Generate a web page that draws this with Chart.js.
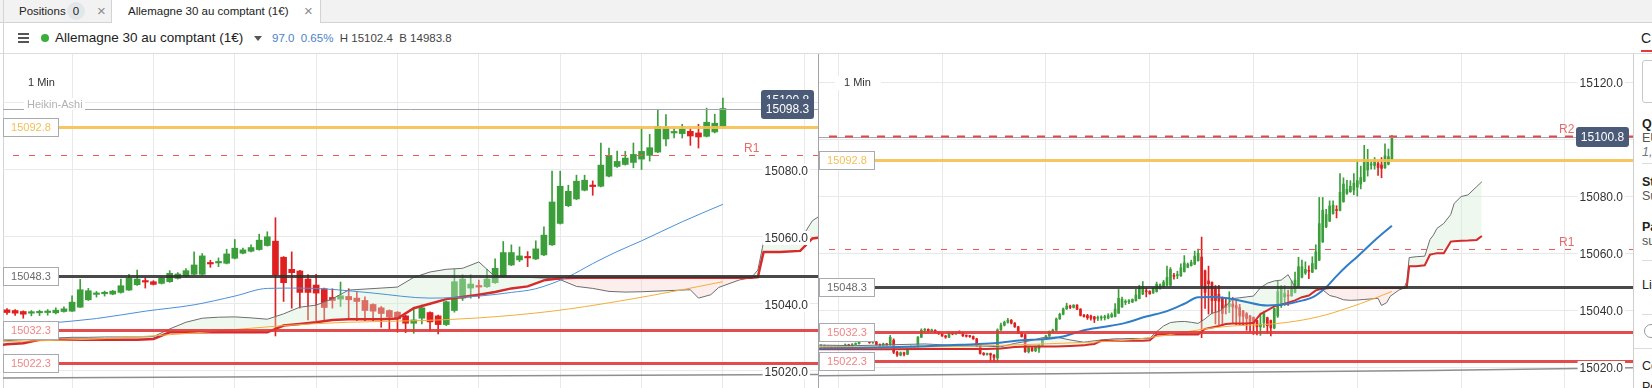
<!DOCTYPE html>
<html lang="fr">
<head>
<meta charset="utf-8">
<title>Allemagne 30 au comptant (1€)</title>
<script src="https://cdn.jsdelivr.net/npm/chart.js@4.4.1/dist/chart.umd.min.js"></script>
<style>
  html, body { margin: 0; padding: 0; }
  body { width: 1652px; height: 388px; overflow: hidden; position: relative; background: #fff;
         font-family: "Liberation Sans", Arial, sans-serif; color: #222; }
  .abs { position: absolute; }
  #tabbar { left: 0; top: 0; width: 1652px; height: 22px; background: #f2f2f2; border-bottom: 1px solid #d3d3d3; }
  .tab { top: 0; height: 23px; font-size: 11.5px; line-height: 22px; box-sizing: border-box; white-space: nowrap; }
  .close { color: #8c8c8c; font-size: 15px; }
  .badge { display: inline-block; width: 18px; height: 18px; border-radius: 9px; background: #e2e7e9; text-align: center; line-height: 18px; }
  #toolbar { left: 0; top: 23px; width: 1652px; height: 30px; border-bottom: 1px solid #dcdcdc; }
  .burger { left: 18px; width: 11px; height: 1.5px; background: #555; }
  .caret { left: 254px; top: 36px; width: 0; height: 0; border-left: 4px solid transparent; border-right: 4px solid transparent; border-top: 5px solid #555; }
  .side { left: 1642px; font-size: 12.5px; white-space: nowrap; }
  canvas { position: absolute; top: 54px; }
</style>
</head>
<body>

<div id="tabbar" class="abs"></div>
<div class="abs tab" style="left:3px;width:109px;border-right:1px solid #d3d3d3;background:#f2f2f2;height:22px">
  <span class="abs" style="left:16px">Positions</span>
  <span class="abs badge" style="left:64px;top:2px">0</span>
  <span class="abs close" style="left:94px">×</span>
</div>
<div class="abs tab" style="left:112px;width:209px;background:#fff;border-right:1px solid #d3d3d3">
  <span class="abs" style="left:16px">Allemagne 30 au comptant (1€)</span>
  <span class="abs close" style="left:192px">×</span>
</div>

<div id="toolbar" class="abs"></div>
<div class="abs burger" style="top:33px"></div>
<div class="abs burger" style="top:37px"></div>
<div class="abs burger" style="top:41px"></div>
<div class="abs" style="left:41px;top:34px;width:8px;height:8px;border-radius:4px;background:#3aae3a"></div>
<div class="abs" style="left:55px;top:30px;font-size:13.5px;white-space:nowrap">Allemagne 30 au comptant (1€)</div>
<div class="abs caret"></div>
<div class="abs" style="left:272px;top:32px;font-size:11.5px;white-space:nowrap;color:#444">
  <span style="color:#4b7fc8">97.0</span>&nbsp;&nbsp;<span style="color:#4b7fc8">0.65%</span>&nbsp; H 15102.4&nbsp; B 14983.8
</div>
<div class="abs" style="left:1641px;top:30px;font-size:14px">C</div>
<div class="abs" style="left:1641px;top:50px;width:11px;height:2px;background:#e23b3b"></div>

<div class="abs" style="left:3px;top:0;width:1px;height:388px;background:#d4d4d4"></div>
<canvas id="left" width="815" height="334" style="left:3px"></canvas>
<div class="abs" style="left:818px;top:54px;width:1px;height:334px;background:#a0a2a8"></div>
<canvas id="right" width="814" height="334" style="left:819px"></canvas>

<div class="abs" style="left:1633px;top:54px;width:1px;height:334px;background:#cfcfcf"></div>
<div class="abs" style="left:1642px;top:60px;width:14px;height:41px;border:1px solid #c8c8c8;border-radius:3px"></div>
<div class="abs side" style="top:117px;font-weight:bold">Qu</div>
<div class="abs side" style="top:131px;color:#555">EU</div>
<div class="abs side" style="top:145px;color:#777;font-style:italic">1,</div>
<div class="abs" style="left:1642px;top:163px;width:10px;height:1px;background:#dcdcdc"></div>
<div class="abs side" style="top:175px;font-weight:bold">St</div>
<div class="abs side" style="top:189px;color:#555">Su</div>
<div class="abs side" style="top:220px;font-weight:bold">Pa</div>
<div class="abs side" style="top:234px;color:#555">su</div>
<div class="abs" style="left:1642px;top:260px;width:10px;height:1px;background:#dcdcdc"></div>
<div class="abs side" style="top:278px">Lin</div>
<div class="abs" style="left:1642px;top:314px;width:10px;height:1px;background:#dcdcdc"></div>
<div class="abs" style="left:1644px;top:324px;width:12px;height:12px;border:1px solid #9a9a9a;border-radius:7px"></div>
<div class="abs" style="left:1634px;top:348px;width:18px;height:1px;background:#dcdcdc"></div>
<div class="abs side" style="top:359px">Co</div>
<div class="abs side" style="top:380px">Po</div>

<script>
// ---- 1 min candles, oldest first (the left panel shows the last 89) ----
const opens = [
  15027.0, 15027.4, 15027.0, 15027.2, 15026.8, 15027.3, 15026.6, 15027.2, 15027.9, 15027.5,
  15028.0, 15028.3, 15029.4, 15030.0, 15029.5, 15028.7, 15028.9, 15028.0, 15027.5, 15028.2,
  15027.8, 15029.5, 15025.3, 15024.3, 15025.1, 15024.6, 15026.5, 15027.2, 15026.8, 15030.6,
  15033.0, 15033.3, 15032.8, 15033.0, 15032.3, 15031.8, 15031.0, 15030.6, 15032.0, 15031.7,
  15032.3, 15032.0, 15031.0, 15030.9, 15030.8, 15030.0, 15027.5, 15024.9, 15024.5, 15024.8,
  15024.3, 15023.3, 15033.1, 15034.8, 15035.8, 15036.5, 15035.5, 15034.2, 15032.0, 15031.4,
  15025.5, 15026.8, 15025.8, 15026.5, 15027.8, 15030.0, 15031.0, 15032.5, 15033.0, 15037.0,
  15038.6, 15040.5, 15041.5, 15041.0, 15041.8, 15040.4, 15038.2,
  15038.2, 15038.0, 15037.7, 15037.2, 15037.3, 15037.4, 15037.3, 15037.7, 15037.8, 15039.0,
  15041.2, 15042.8, 15043.0, 15042.9, 15043.4, 15044.1, 15045.7, 15046.7, 15046.6, 15046.1,
  15046.6, 15047.6, 15048.3, 15048.8, 15048.8, 15052.1, 15052.2, 15052.1, 15053.6, 15055.1,
  15055.7, 15056.2, 15057.4, 15058.7, 15053.9, 15050.3, 15049.8, 15047.4, 15045.6, 15044.5,
  15041.9, 15041.4, 15042.2, 15041.7, 15041.0, 15039.8, 15038.8, 15038.0, 15037.5, 15036.4,
  15034.2, 15035.7, 15037.4, 15036.4, 15033.8, 15038.0, 15041.7, 15044.7, 15045.2, 15045.1,
  15046.3, 15048.1, 15051.6, 15053.1, 15053.9, 15053.4, 15054.6, 15057.6, 15064.0, 15069.3,
  15071.3, 15073.9, 15075.3, 15075.1, 15078.1, 15081.0, 15081.6, 15082.2, 15083.2, 15084.3,
  15085.3, 15089.2, 15091.0, 15090.8, 15091.5, 15091.0, 15090.0, 15091.3, 15093.0
];
const highs = [
  15028.0, 15027.8, 15027.6, 15027.5, 15027.6, 15027.5, 15027.4, 15028.2, 15028.1, 15028.3,
  15028.6, 15029.8, 15030.8, 15030.3, 15029.7, 15029.3, 15029.1, 15028.2, 15028.5, 15028.4,
  15031.2, 15030.0, 15025.6, 15025.4, 15025.3, 15026.8, 15027.5, 15027.4, 15030.8, 15033.5,
  15033.6, 15033.5, 15033.4, 15033.2, 15032.5, 15032.0, 15031.2, 15032.3, 15032.4, 15032.6,
  15032.8, 15032.2, 15031.4, 15031.2, 15031.0, 15030.2, 15027.7, 15025.2, 15025.0, 15025.0,
  15024.5, 15033.5, 15035.5, 15036.2, 15037.2, 15036.8, 15035.7, 15034.4, 15032.2, 15031.6,
  15027.0, 15027.0, 15027.5, 15028.0, 15030.2, 15031.2, 15032.8, 15033.4, 15037.3, 15039.0,
  15040.8, 15042.5, 15041.8, 15042.0, 15042.0, 15040.6, 15038.6,
  15038.6, 15038.3, 15037.9, 15038.0, 15038.1, 15038.3, 15038.8, 15039.1, 15042.4, 15047.3,
  15044.6, 15043.7, 15043.8, 15044.0, 15047.4, 15048.8, 15050.1, 15047.8, 15046.9, 15048.0,
  15049.9, 15049.3, 15050.5, 15055.5, 15055.0, 15053.0, 15053.7, 15056.3, 15059.2, 15056.6,
  15057.6, 15060.8, 15061.5, 15065.7, 15054.1, 15055.5, 15050.0, 15048.7, 15048.8, 15044.7,
  15044.5, 15046.5, 15044.5, 15043.5, 15042.1, 15040.0, 15039.2, 15038.2, 15037.7, 15036.6,
  15039.0, 15039.7, 15037.6, 15036.6, 15040.8, 15050.3, 15048.7, 15048.7, 15047.1, 15050.3,
  15053.4, 15058.6, 15057.6, 15057.0, 15055.6, 15058.8, 15063.0, 15079.6, 15079.6, 15075.4,
  15078.4, 15078.4, 15076.7, 15088.0, 15086.5, 15085.6, 15085.5, 15088.0, 15092.3, 15090.6,
  15097.9, 15096.5, 15092.3, 15093.6, 15092.3, 15093.6, 15098.4, 15096.6, 15101.4
];
const lows = [
  15026.5, 15026.6, 15026.5, 15026.4, 15026.5, 15026.2, 15026.3, 15027.0, 15027.2, 15027.3,
  15027.8, 15028.1, 15029.2, 15029.2, 15028.4, 15028.4, 15027.7, 15027.2, 15027.3, 15027.5,
  15027.6, 15024.8, 15023.8, 15024.0, 15024.0, 15024.4, 15026.3, 15026.5, 15026.6, 15030.4,
  15032.6, 15032.5, 15032.5, 15032.0, 15031.5, 15030.8, 15030.2, 15030.4, 15031.4, 15031.5,
  15031.8, 15030.8, 15030.6, 15030.5, 15029.8, 15027.2, 15024.6, 15024.2, 15024.3, 15022.0,
  15022.0, 15022.2, 15032.9, 15034.5, 15035.5, 15035.2, 15034.0, 15031.8, 15030.6, 15025.2,
  15025.0, 15025.6, 15025.5, 15025.2, 15027.6, 15029.8, 15030.8, 15032.2, 15032.8, 15036.8,
  15038.4, 15040.3, 15040.6, 15040.8, 15040.2, 15038.0, 15037.6,
  15036.8, 15036.5, 15035.7, 15036.4, 15036.5, 15036.6, 15037.0, 15037.5, 15037.7, 15038.9,
  15041.0, 15042.0, 15042.3, 15042.7, 15043.2, 15044.0, 15045.5, 15044.7, 15045.6, 15045.9,
  15046.4, 15047.4, 15048.1, 15048.6, 15048.6, 15050.9, 15051.1, 15051.9, 15053.4, 15054.9,
  15055.5, 15056.0, 15057.2, 15030.4, 15040.7, 15038.7, 15038.7, 15035.2, 15035.0, 15035.0,
  15038.7, 15039.2, 15035.7, 15035.0, 15035.0, 15035.0, 15033.0, 15032.4, 15031.5, 15031.4,
  15031.2, 15034.0, 15032.0, 15031.0, 15033.5, 15037.5, 15041.0, 15041.7, 15041.7, 15044.9,
  15046.1, 15047.9, 15051.4, 15052.6, 15051.1, 15053.2, 15054.4, 15057.4, 15063.8, 15069.0,
  15071.1, 15073.7, 15072.4, 15074.9, 15077.9, 15080.7, 15081.4, 15080.6, 15080.1, 15082.6,
  15085.1, 15087.1, 15089.5, 15089.5, 15087.3, 15086.5, 15089.8, 15091.0, 15092.8
];
const closes = [
  15027.4, 15027.0, 15027.2, 15026.8, 15027.3, 15026.6, 15027.2, 15027.9, 15027.5, 15028.0,
  15028.3, 15029.4, 15030.0, 15029.5, 15028.7, 15028.9, 15028.0, 15027.5, 15028.2, 15027.8,
  15030.5, 15025.3, 15024.3, 15025.1, 15024.6, 15026.5, 15027.2, 15026.8, 15030.6, 15033.0,
  15033.3, 15032.8, 15033.0, 15032.3, 15031.8, 15031.0, 15030.6, 15032.0, 15031.7, 15032.3,
  15032.0, 15031.0, 15030.9, 15030.8, 15030.0, 15027.5, 15024.9, 15024.5, 15024.8, 15024.3,
  15023.5, 15033.1, 15034.8, 15035.8, 15036.5, 15035.5, 15034.2, 15032.0, 15030.8, 15025.5,
  15026.8, 15025.8, 15027.3, 15027.8, 15030.0, 15031.0, 15032.5, 15033.1, 15037.0, 15038.6,
  15040.5, 15041.5, 15041.0, 15041.8, 15040.4, 15038.2, 15037.8,
  15037.4, 15037.2, 15036.9, 15037.4, 15037.5, 15037.6, 15038.1, 15038.5, 15040.5, 15044.2,
  15043.9, 15043.1, 15043.3, 15043.8, 15045.4, 15047.6, 15047.4, 15046.5, 15045.8, 15047.6,
  15049.1, 15048.9, 15049.9, 15051.6, 15054.3, 15051.9, 15052.4, 15054.9, 15056.6, 15056.1,
  15056.8, 15059.0, 15060.0, 15048.6, 15046.3, 15049.3, 15043.4, 15043.4, 15043.2, 15038.9,
  15041.0, 15042.4, 15041.2, 15040.7, 15038.0, 15037.8, 15037.1, 15036.1, 15035.5, 15034.2,
  15035.2, 15038.8, 15034.6, 15033.8, 15040.6, 15046.6, 15047.4, 15045.9, 15045.0, 15047.4,
  15050.6, 15055.3, 15055.3, 15054.3, 15053.7, 15056.4, 15060.5, 15070.4, 15075.1, 15073.6,
  15076.6, 15076.9, 15075.0, 15081.4, 15084.3, 15082.5, 15083.5, 15084.6, 15085.5, 15086.6,
  15093.0, 15092.6, 15091.3, 15092.1, 15090.1, 15089.8, 15094.2, 15093.9, 15098.3
];
const firstLeft = 77;            // first candle of the left panel
const lastLeft = 15098.3;        // last price, left panel
const lastRight = 15100.8;       // last price, right panel

// ---- indicators (x = candle number) ----
const blueX = [-1, 10, 20, 30, 40, 50, 58, 64, 70, 76, 82, 88, 94, 100, 105, 109, 113, 117, 122, 129, 135, 139, 142, 146, 149, 152, 155, 160, 165];
const blueY = [15026.6, 15026.8, 15027.0, 15027.4, 15027.9, 15028.4, 15029.5, 15029.8, 15030.8, 15033.0, 15034.2, 15035.6, 15037.8, 15039.7,
               15042.3, 15044.6, 15044.7, 15044.3, 15043.2, 15041.7, 15042.3, 15043.4, 15044.5, 15048.1, 15052.0, 15055.6, 15058.8, 15064.5, 15069.7];
const orangeX = [-1, 25, 54, 73, 88, 100, 111, 119, 128, 135, 144, 152, 160, 165];
const orangeY = [15027.3, 15027.1, 15027.8, 15028.6, 15029.5, 15031.3, 15033.5, 15034.5, 15035.0, 15035.8, 15037.8, 15040.7, 15044.2, 15046.6];
const cloudX = [-1, 10, 20, 30, 40, 48, 52, 56, 60, 64, 68, 72, 76, 77, 79, 81, 83, 85, 87, 89, 91, 93, 95, 97, 99, 101, 103, 105, 107, 109,
                111, 113, 115, 117, 119, 121, 123, 125, 127, 129, 131, 133, 135, 137, 139, 141, 143, 145, 147, 149, 151, 153, 155, 157, 159, 161,
                162, 163.5, 164.5, 167, 168.5, 169.3, 170, 172, 174.5, 176, 177, 178, 180, 182, 183, 185, 187, 189.5, 191];
const spanB = [15027.8, 15027.6, 15027.9, 15028.2, 15027.6, 15027.4, 15027.2, 15028.4, 15029.2, 15030.4, 15030.6, 15029.6, 15028.8, 15029.0,
               15029.3, 15029.6, 15029.8, 15030.0, 15030.0, 15030.1, 15030.1, 15030.1, 15030.2, 15032.5, 15034.5, 15035.7, 15036.0, 15036.1,
               15035.8, 15035.4, 15037.0, 15039.0, 15039.6, 15041.5, 15044.1, 15044.4, 15044.7, 15045.0, 15047.9, 15049.5, 15050.3, 15050.6,
               15052.5, 15048.1, 15048.0, 15047.9, 15047.7, 15047.2, 15045.2, 15044.6, 15043.7, 15043.5, 15043.6, 15043.8, 15044.0, 15044.2,
               15041.7, 15042.7, 15044.9, 15047.1, 15047.8, 15050.1, 15058.5, 15058.8, 15059.0, 15064.8, 15066.4, 15068.7, 15070.5, 15073.6,
               15077.5, 15079.9, 15080.5, 15083.4, 15085.1];
const spanA = [15026.3, 15026.3, 15026.3, 15026.4, 15026.4, 15026.4, 15026.6, 15027.1, 15027.3, 15027.3, 15027.3, 15027.5, 15027.7, 15027.9,
               15028.2, 15029.3, 15029.3, 15029.3, 15029.3, 15029.3, 15029.3, 15029.3, 15029.5, 15031.5, 15031.5, 15031.5, 15031.5, 15031.5,
               15031.5, 15031.5, 15033.5, 15034.0, 15034.5, 15035.2, 15035.4, 15035.4, 15035.4, 15035.6, 15038.7, 15040.0, 15041.4, 15042.0,
               15042.7, 15043.5, 15044.6, 15045.2, 15047.0, 15047.6, 15047.8, 15047.8, 15047.8, 15047.8, 15047.8, 15047.8, 15047.8, 15047.8,
               15047.8, 15047.8, 15047.8, 15047.8, 15047.8, 15048.0, 15055.5, 15055.5, 15055.8, 15059.5, 15059.8, 15060.0, 15060.0, 15064.1,
               15064.2, 15064.4, 15064.5, 15064.7, 15066.1];
const longX = [-1, 110, 176, 236];
const longY = [15017.0, 15018.2, 15018.9, 15019.9];

// ---- horizontal levels ----
const levelValues = [15092.8, 15048.3, 15032.3, 15022.3];
const levelNames = ['15092.8', '15048.3', '15032.3', '15022.3'];
const pivotsLeft = [{ name: 'R1', value: 15084.3 }];
const pivotsRight = [{ name: 'R2', value: 15101.0 }, { name: 'R1', value: 15061.5 }];

const UP = '#3b9e3b', DOWN = '#df2020', GRID = '#e9e9e9';
const FONT = '"Liberation Sans", Arial, sans-serif';
const levelColor = ['rgba(246,192,80,0.9)', 'rgba(48,48,48,0.88)', 'rgba(224,56,56,0.9)', 'rgba(224,56,56,0.9)'];
const levelText = ['#f2bf57', '#6a6a6a', '#f08585', '#f08585'];

function overlay(o) {
  return {
    id: 'overlay',
    afterDatasetsDraw(chart) {
      const { ctx, chartArea: a, scales: { y } } = chart;
      const Y = v => Math.round(y.getPixelForValue(v));
      ctx.save();
      ctx.textBaseline = 'middle';

      // last price line
      ctx.strokeStyle = '#a2a6b0'; ctx.lineWidth = 1;
      ctx.beginPath(); ctx.moveTo(a.left, Y(o.last) + 0.5); ctx.lineTo(a.right, Y(o.last) + 0.5); ctx.stroke();
      if (o.priceLabel) {
        ctx.fillStyle = '#fff'; ctx.fillRect(21, Y(o.last) - 11, 61, 12);
        ctx.font = '11px ' + FONT; ctx.fillStyle = '#b2b2b2'; ctx.textAlign = 'left';
        ctx.fillText(o.priceLabel, 24, Y(o.last) - 4);
      }

      // pivot lines
      o.pivots.forEach(p => {
        ctx.strokeStyle = p.name === 'R2' ? '#e4484c' : '#ec5a5a';
        ctx.lineWidth = p.name === 'R2' ? 2 : 1;
        ctx.setLineDash(p.name === 'R2' ? [8, 8] : [6, 10]);
        ctx.beginPath(); ctx.moveTo(a.left + 10, Y(p.value) + 0.5); ctx.lineTo(a.right, Y(p.value) + 0.5); ctx.stroke();
      });
      ctx.setLineDash([]);

      // levels + their boxes
      levelValues.forEach((v, n) => {
        ctx.strokeStyle = levelColor[n]; ctx.lineWidth = 3;
        ctx.beginPath(); ctx.moveTo(a.left, Y(v) + 0.5); ctx.lineTo(a.right, Y(v) + 0.5); ctx.stroke();
      });
      ctx.font = '11px ' + FONT; ctx.textAlign = 'center';
      levelValues.forEach((v, n) => {
        const cy = Y(v);
        ctx.fillStyle = '#fff'; ctx.fillRect(a.left, cy - 9, 56, 19);
        ctx.strokeStyle = '#a9a9b0'; ctx.lineWidth = 1; ctx.strokeRect(a.left + 0.5, cy - 8.5, 55, 18);
        ctx.fillStyle = levelText[n]; ctx.fillText(levelNames[n], a.left + 28, cy + 1);
      });

      // timeframe
      ctx.fillStyle = '#fff'; ctx.fillRect(16, 22, 46, 14);
      ctx.fillStyle = '#333'; ctx.textAlign = 'left'; ctx.font = '11px ' + FONT;
      ctx.fillText('1 Min', 25, 29);

      // pivot names
      ctx.font = '12px ' + FONT; ctx.fillStyle = '#e66b6b';
      o.pivots.forEach(p => ctx.fillText(p.name, a.right - 74, Y(p.value) - 6));

      // price scale
      ctx.font = '12px ' + FONT; ctx.textAlign = 'right';
      o.yGrid.forEach(v => {
        const w = ctx.measureText(v.toFixed(1)).width;
        ctx.fillStyle = '#fff'; ctx.fillRect(a.right - 12 - w, Y(v) - 6, w + 4, 14);
        ctx.fillStyle = '#333'; ctx.fillText(v.toFixed(1), a.right - 10, Y(v) + 1.5);
      });

      // price tags
      ctx.textAlign = 'center';
      o.tags.forEach(v => {
        const cy = Y(v), x0 = a.right - 57;
        ctx.fillStyle = '#4b5a77';
        ctx.beginPath(); ctx.roundRect(x0, cy - 10, 53, 20, 3); ctx.fill();
        ctx.fillStyle = '#fff'; ctx.fillText(v.toFixed(1), x0 + 26.5, cy + 1);
      });
      ctx.restore();
    }
  };
}

function makeChart(id, o) {
  const wick = [], body = [], colors = [];
  for (let k = o.from; k < closes.length; k++) {
    const c = k === closes.length - 1 ? o.last : closes[k];
    wick.push({ x: k, y: [lows[k], highs[k]] });
    body.push({ x: k, y: [opens[k], c] });
    colors.push(c >= opens[k] ? UP : DOWN);
  }
  const pts = (xs, ys) => xs.map((x, n) => ({ x, y: ys[n] }));
  const lineSet = (data, color, width, order, extra) => Object.assign({
    type: 'line', data, borderColor: color, borderWidth: width, pointRadius: 0, tension: 0, order
  }, extra || {});

  return new Chart(document.getElementById(id), {
    type: 'bar',
    data: {
      datasets: [
        { data: wick, backgroundColor: colors, barThickness: 1, grouped: false, order: 10 },
        { data: body, backgroundColor: colors, barThickness: o.bodyW, minBarLength: o.minBody, grouped: false, order: 9 },
        lineSet(pts(cloudX, spanA), '#d42b2b', o.redW, 4),
        lineSet(pts(cloudX, spanB), '#6d6d6d', 1, 5, {
          fill: { target: 2, above: 'rgba(214,236,214,0.38)', below: 'rgba(250,206,206,0.35)' }
        }),
        lineSet(pts(blueX, blueY), o.blueC, o.blueW, 3, { cubicInterpolationMode: 'monotone' }),
        lineSet(pts(orangeX, orangeY), '#f4ad3a', 1, 3, { cubicInterpolationMode: 'monotone' }),
        lineSet(pts(longX, longY), '#8e8e8e', 1.5, 3)
      ]
    },
    options: {
      responsive: false, animation: false, events: [],
      layout: { padding: 0 },
      plugins: { legend: { display: false }, tooltip: { enabled: false } },
      scales: {
        x: {
          type: 'linear', min: o.xMin, max: o.xMax, offset: false,
          grid: { color: GRID, drawTicks: false }, border: { display: false }, ticks: { display: false },
          afterBuildTicks: s => { s.ticks = o.xGrid.map(value => ({ value })); }
        },
        y: {
          type: 'linear', min: o.yMin, max: o.yMax,
          grid: { color: GRID, drawTicks: false }, border: { display: false }, ticks: { display: false },
          afterBuildTicks: s => { s.ticks = o.yGrid.map(value => ({ value })); }
        }
      }
    },
    plugins: [overlay(o)]
  });
}

makeChart('left', {
  from: firstLeft, last: lastLeft, bodyW: 6, minBody: 1.5, redW: 2.5, blueC: '#4b8fd8', blueW: 1,
  xMin: 76.51, xMax: 176.69, yMin: 15014.87, yMax: 15114.57,
  xGrid: [90, 100, 110, 120, 130, 140, 150, 160, 170],
  yGrid: [15020, 15040, 15060, 15080, 15100],
  pivots: pivotsLeft, priceLabel: 'Heikin-Ashi', tags: [15100.8, lastLeft]
});
makeChart('right', {
  from: 0, last: lastRight, bodyW: 2, minBody: 1, redW: 2, blueC: '#2f7cc9', blueW: 2,
  xMin: -0.58, xMax: 234.68, yMin: 15012.74, yMax: 15129.93,
  xGrid: [20, 50, 80, 110, 140, 170, 200, 230],
  yGrid: [15020, 15040, 15060, 15080, 15100, 15120],
  pivots: pivotsRight, priceLabel: null, tags: [lastRight]
});
</script>
</body>
</html>
